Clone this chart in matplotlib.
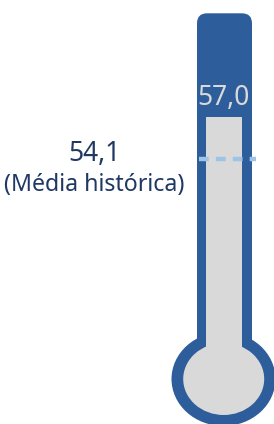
import matplotlib.pyplot as plt
import matplotlib.patches as patches

# Dados
valor_atual = 57.0
media_historica = 54.1
rotulo_atual = "57,0"
rotulo_media = "54,1"
legenda_media = "(Média histórica)"

AZUL = '#2D5E9B'
CINZA = '#D9D9D9'
AZUL_CLARO = '#9DC3E6'
TEXTO = '#1F3864'
FONTE = ['Noto Sans', 'DejaVu Sans']

# escala: pixels por unidade
k = 42 / 2.9
y_top = valor_atual + 116.7 / k
y_bot = valor_atual - (424 - 116.7) / k

def v(px):
    # posição vertical (pixels a partir do topo) -> valor
    return valor_atual - (px - 116.7) / k

fig = plt.figure(figsize=(2.74, 4.24), dpi=100, facecolor='white')
ax = fig.add_axes([0, 0, 1, 1])
ax.set_xlim(0, 274)
ax.set_ylim(y_bot, y_top)
ax.axis('off')

# tubo azul
ax.add_patch(patches.FancyBboxPatch((197, v(370)), 55, v(13.3) - v(370),
                                    boxstyle="round,pad=0,rounding_size=10",
                                    mutation_aspect=1 / k,
                                    facecolor=AZUL, edgecolor='none', zorder=2))
# bulbo
ax.add_patch(patches.Ellipse((223.5, v(379)), 104, 94 / k, facecolor=AZUL, edgecolor='none', zorder=2))
ax.add_patch(patches.Ellipse((223.7, v(379)), 81, 72 / k, facecolor=CINZA, edgecolor='none', zorder=3))

# coluna (valor atual)
ax.bar(223.8, valor_atual - v(365), width=35.5, bottom=v(365), color=CINZA, zorder=3)

# linha da média histórica
ax.plot([199, 256], [media_historica, media_historica], color=AZUL_CLARO, lw=3.2,
        linestyle=(0, (2.2, 1.6)), zorder=4, solid_capstyle='butt')

ax.text(223.5, v(97.7), rotulo_atual, ha='center', va='center', color=CINZA,
        fontsize=19, family=FONTE, zorder=5)
ax.text(95, v(153.7), rotulo_media, ha='center', va='center', color=TEXTO,
        fontsize=19, family=FONTE)
ax.text(94, v(185), legenda_media, ha='center', va='center', color=TEXTO,
        fontsize=16.7, family=FONTE)

plt.savefig("out.png", dpi=100)
